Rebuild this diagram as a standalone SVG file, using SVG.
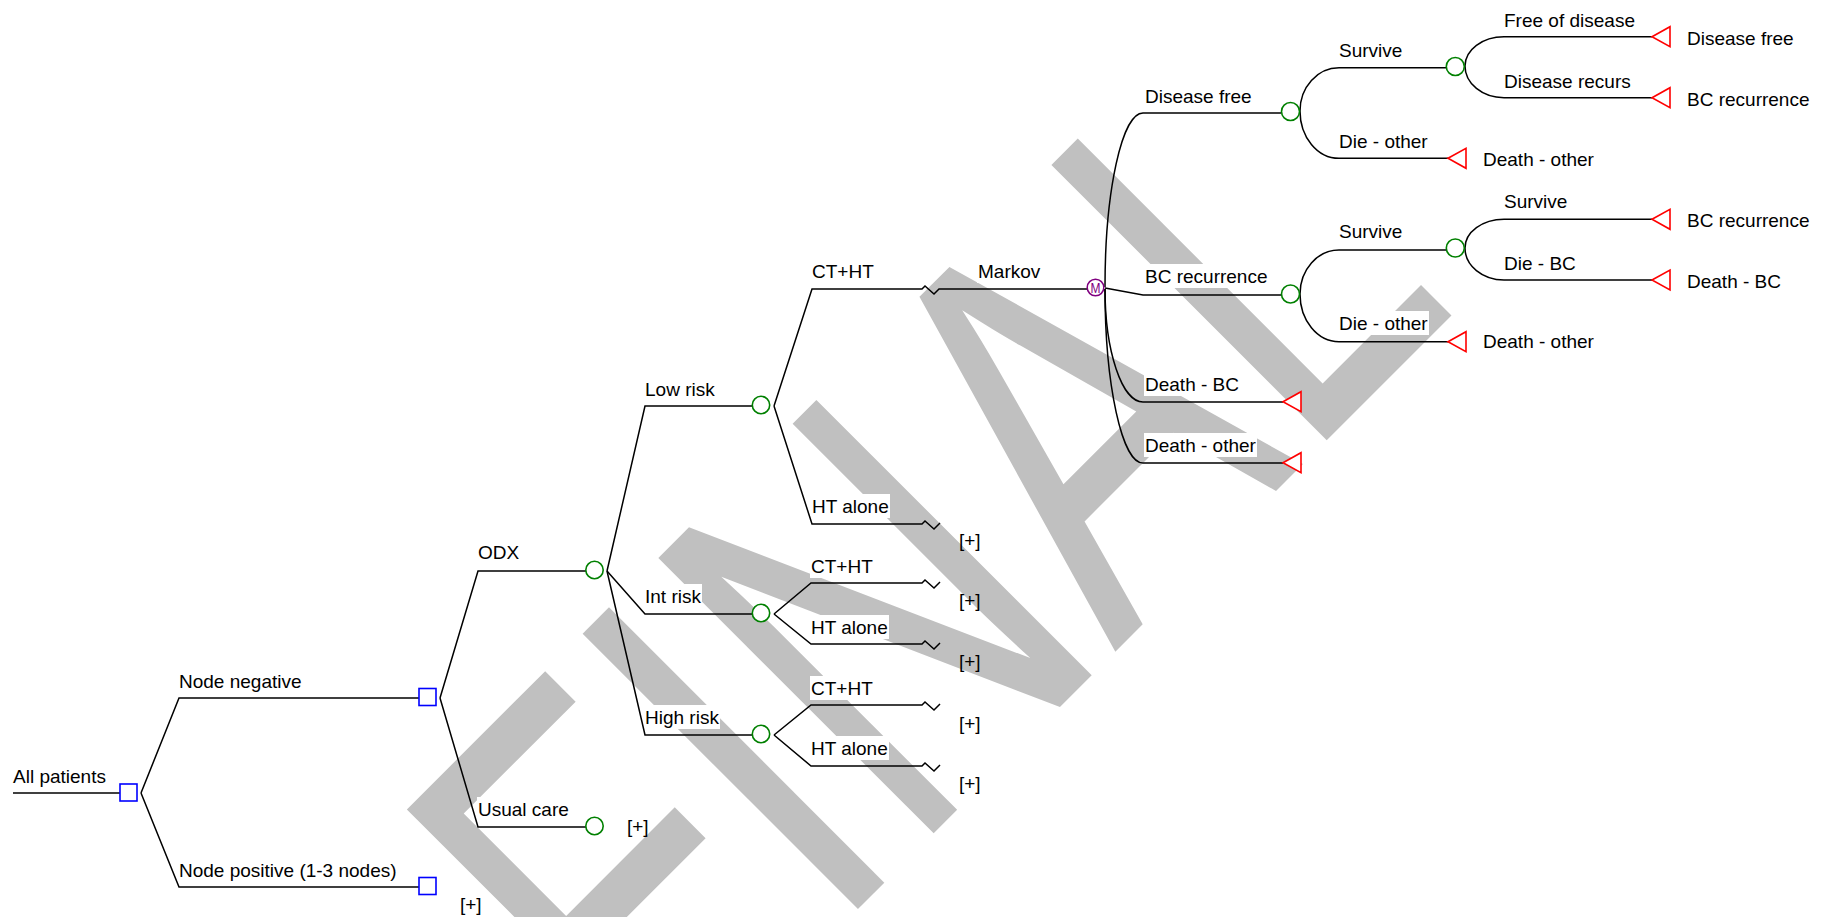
<svg xmlns="http://www.w3.org/2000/svg" width="1825" height="917" viewBox="0 0 1825 917">
<style>
text{font-family:"Liberation Sans",Arial,sans-serif;font-size:19px;fill:#000}
.wm{font-size:566px;fill:#c0c0c0}
.ln{fill:none;stroke:#000;stroke-width:1.5}
.sq{fill:#fff;stroke:#0000ff;stroke-width:1.6}
.ch{fill:#fff;stroke:#008000;stroke-width:1.6}
.mk{fill:#fff;stroke:#800080;stroke-width:1.5}
.mt{font-size:15px;fill:#800080;text-anchor:middle}
.tm{fill:#fff;stroke:#ff0000;stroke-width:1.6}
.bg{fill:#fff}
</style>
<g id="watermark">
<text class="wm" transform="translate(659,1108) rotate(-45) scale(0.707,1)">FINAL</text>
</g>
<g id="label-backgrounds">
<rect class="bg" x="178" y="669" width="125" height="24"/>
<rect class="bg" x="178" y="858" width="220" height="24"/>
<rect class="bg" x="477" y="540" width="43" height="24"/>
<rect class="bg" x="477" y="797" width="93" height="24"/>
<rect class="bg" x="644" y="377" width="72" height="24"/>
<rect class="bg" x="644" y="584" width="58" height="24"/>
<rect class="bg" x="644" y="705" width="76" height="24"/>
<rect class="bg" x="811" y="259" width="64" height="24"/>
<rect class="bg" x="977" y="259" width="64" height="24"/>
<rect class="bg" x="811" y="494" width="79" height="24"/>
<rect class="bg" x="810" y="554" width="64" height="24"/>
<rect class="bg" x="810" y="615" width="79" height="24"/>
<rect class="bg" x="810" y="676" width="64" height="24"/>
<rect class="bg" x="810" y="736" width="79" height="24"/>
<rect class="bg" x="1144" y="84" width="109" height="24"/>
<rect class="bg" x="1144" y="264" width="125" height="24"/>
<rect class="bg" x="1144" y="372" width="96" height="24"/>
<rect class="bg" x="1144" y="433" width="113" height="24"/>
<rect class="bg" x="1338" y="38" width="65" height="24"/>
<rect class="bg" x="1338" y="129" width="91" height="24"/>
<rect class="bg" x="1338" y="219" width="65" height="24"/>
<rect class="bg" x="1338" y="311" width="91" height="24"/>
<rect class="bg" x="1503" y="8" width="133" height="24"/>
<rect class="bg" x="1503" y="69" width="130" height="24"/>
<rect class="bg" x="1503" y="189" width="65" height="24"/>
<rect class="bg" x="1503" y="251" width="74" height="24"/>
</g>
<g id="connectors">
<path class="ln" d="M13,793 H120"/>
<path class="ln" d="M141,793 L179,698 H419"/>
<path class="ln" d="M141,793 L179,887 H419"/>
<path class="ln" d="M440,698 L478,571 H586"/>
<path class="ln" d="M440,698 L478,827 H586"/>
<path class="ln" d="M607,571 L645,406 H753"/>
<path class="ln" d="M607,571 L645,614 H753"/>
<path class="ln" d="M607,571 L645,735 H753"/>
<path class="ln" d="M774,406 L812,289 H922 L925,286 L934,294 L939,289 H1087"/>
<path class="ln" d="M774,406 L812,524 H922 L925,521 L934,529 L940,523"/>
<path class="ln" d="M774,614 L811,583 H922 L925,580 L934,588 L940,582"/>
<path class="ln" d="M774,614 L811,644 H922 L925,641 L934,649 L940,643"/>
<path class="ln" d="M774,735 L811,705 H922 L925,702 L934,710 L940,704"/>
<path class="ln" d="M774,735 L811,766 H922 L925,763 L934,771 L940,765"/>
<path class="ln" d="M1105,287 A38,174 0 0 1 1143,113 H1281"/>
<path class="ln" d="M1105,288 L1143,295 H1281"/>
<path class="ln" d="M1105,289 A38,113 0 0 0 1143,402 H1283"/>
<path class="ln" d="M1105,289 A38,174 0 0 0 1143,463 H1283"/>
<path class="ln" d="M1300,111 A39,43.3 0 0 1 1339,67.7 H1446"/>
<path class="ln" d="M1300,111 A39,47.3 0 0 0 1339,158.3 H1448"/>
<path class="ln" d="M1465,66 A39,29.3 0 0 1 1504,36.7 H1652"/>
<path class="ln" d="M1465,66 A39,31.7 0 0 0 1504,97.7 H1652"/>
<path class="ln" d="M1300,294 A39,44 0 0 1 1339,250 H1446"/>
<path class="ln" d="M1300,294 A39,47.7 0 0 0 1339,341.7 H1448"/>
<path class="ln" d="M1465,248 A39,28.7 0 0 1 1504,219.3 H1652"/>
<path class="ln" d="M1465,248 A39,32 0 0 0 1504,280 H1652"/>
</g>
<g id="labels">
<text x="13" y="783">All patients</text>
<text x="179" y="688">Node negative</text>
<text x="179" y="877">Node positive (1-3 nodes)</text>
<text x="478" y="559">ODX</text>
<text x="478" y="816">Usual care</text>
<text x="645" y="396">Low risk</text>
<text x="645" y="603">Int risk</text>
<text x="645" y="724">High risk</text>
<text x="812" y="278">CT+HT</text>
<text x="978" y="278">Markov</text>
<text x="812" y="513">HT alone</text>
<text x="811" y="573">CT+HT</text>
<text x="811" y="634">HT alone</text>
<text x="811" y="695">CT+HT</text>
<text x="811" y="755">HT alone</text>
<text x="1145" y="103">Disease free</text>
<text x="1145" y="283">BC recurrence</text>
<text x="1145" y="391">Death - BC</text>
<text x="1145" y="452">Death - other</text>
<text x="1339" y="57">Survive</text>
<text x="1339" y="148">Die - other</text>
<text x="1339" y="238">Survive</text>
<text x="1339" y="330">Die - other</text>
<text x="1504" y="27">Free of disease</text>
<text x="1504" y="88">Disease recurs</text>
<text x="1504" y="208">Survive</text>
<text x="1504" y="270">Die - BC</text>
<text x="460" y="911">[+]</text>
<text x="627" y="833">[+]</text>
<text x="959" y="547">[+]</text>
<text x="959" y="607">[+]</text>
<text x="959" y="668">[+]</text>
<text x="959" y="730">[+]</text>
<text x="959" y="790">[+]</text>
</g>
<g id="node-all-patients"><rect class="sq" x="120" y="784" width="17" height="17"/></g>
<g id="node-negative"><rect class="sq" x="419" y="688.5" width="17" height="17"/></g>
<g id="node-positive"><rect class="sq" x="419" y="877.5" width="17" height="17"/></g>
<g id="node-odx"><circle class="ch" cx="594.5" cy="570" r="8.7"/></g>
<g id="node-usual-care"><circle class="ch" cx="594.5" cy="826" r="8.7"/></g>
<g id="node-low-risk"><circle class="ch" cx="761" cy="405" r="8.7"/></g>
<g id="node-int-risk"><circle class="ch" cx="761" cy="613" r="8.7"/></g>
<g id="node-high-risk"><circle class="ch" cx="761" cy="734" r="8.7"/></g>
<g id="node-markov"><circle class="mk" cx="1095.5" cy="287.5" r="8.3"/><text class="mt" x="1095.5" y="293" transform="translate(1095.5,0) scale(0.8,1) translate(-1095.5,0)">M</text></g>
<g id="node-disease-free"><circle class="ch" cx="1290.5" cy="111.5" r="9"/></g>
<g id="node-bc-recurrence"><circle class="ch" cx="1290.5" cy="294" r="9"/></g>
<g id="node-df-survive"><circle class="ch" cx="1455.3" cy="66.5" r="9"/></g>
<g id="node-bc-survive"><circle class="ch" cx="1455.3" cy="248" r="9"/></g>
<g id="term-df-free"><polygon class="tm" points="1652,36.7 1670,26.7 1670,46.7"/><text x="1687" y="45">Disease free</text></g>
<g id="term-df-recur"><polygon class="tm" points="1652,97.7 1670,87.7 1670,107.7"/><text x="1687" y="106">BC recurrence</text></g>
<g id="term-df-die"><polygon class="tm" points="1448,158.3 1466,148.3 1466,168.3"/><text x="1483" y="166">Death - other</text></g>
<g id="term-bc-survive"><polygon class="tm" points="1652,219.3 1670,209.3 1670,229.3"/><text x="1687" y="227">BC recurrence</text></g>
<g id="term-bc-diebc"><polygon class="tm" points="1652,280 1670,270 1670,290"/><text x="1687" y="288">Death - BC</text></g>
<g id="term-bc-die"><polygon class="tm" points="1448,341.7 1466,331.7 1466,351.7"/><text x="1483" y="348">Death - other</text></g>
<g id="term-death-bc"><polygon class="tm" points="1283,401.7 1301,391.7 1301,411.7"/></g>
<g id="term-death-other"><polygon class="tm" points="1283,462.7 1301,452.7 1301,472.7"/></g>
</svg>
